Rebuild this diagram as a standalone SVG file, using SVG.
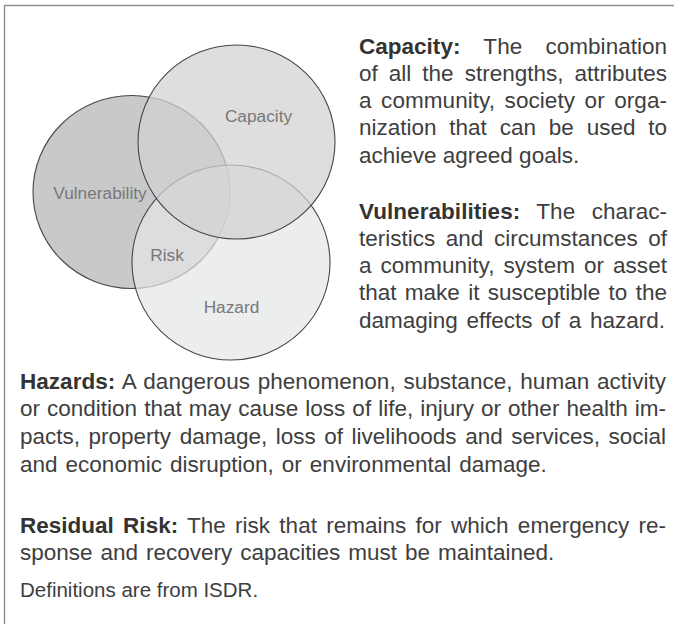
<svg xmlns="http://www.w3.org/2000/svg" width="674" height="624" viewBox="0 0 674 624">
<style>
.frame{fill:none;stroke:#8e8e8e;stroke-width:1.4}
.circ{stroke:#474747;stroke-width:1.1}
.lbl{font-family:"Liberation Sans",Arial,sans-serif;font-size:17.3px;fill:#787878;text-anchor:middle}
.body{font-family:"Liberation Sans",Arial,sans-serif;font-size:22.5px;fill:#3e3e3e}
.b{font-weight:bold;fill:#333333}
.note{font-family:"Liberation Sans",Arial,sans-serif;font-size:20.5px;fill:#3e3e3e}
</style>
<rect width="674" height="624" fill="#ffffff"/>
<path class="frame" d="M4.5,624 V5.5 H674"/>

<g id="vulnerability">
<ellipse class="circ" cx="131.5" cy="192" rx="98.5" ry="96.5" fill="#c8c9ca"/>
<text class="lbl" x="100" y="199">Vulnerability</text>
</g>
<g id="hazard">
<ellipse class="circ" cx="231" cy="262.5" rx="99" ry="97.5" fill="#e4e5e6" fill-opacity="0.71"/>
<text class="lbl" x="231.5" y="313">Hazard</text>
</g>
<g id="capacity">
<ellipse class="circ" cx="236.5" cy="142" rx="98.5" ry="97" fill="#d1d2d3" fill-opacity="0.727"/>
<text class="lbl" x="258.5" y="122">Capacity</text>
</g>
<g id="risk">
<text class="lbl" x="167" y="261">Risk</text>
</g>

<g id="def-capacity" class="body">
<text x="359" y="53.5" word-spacing="17.1" textLength="308"><tspan class="b">Capacity:</tspan> The combination</text>
<text x="359" y="80.8" word-spacing="4.8" textLength="308">of all the strengths, attributes</text>
<text x="359" y="108.1" word-spacing="3.2" textLength="308">a community, society or orga-</text>
<text x="359" y="135.4" word-spacing="6.6" textLength="308">nization that can be used to</text>
<text x="359" y="162.7">achieve agreed goals.</text>
</g>
<g id="def-vulnerabilities" class="body">
<text x="359" y="218.5" word-spacing="10.2" textLength="308"><tspan class="b">Vulnerabilities:</tspan> The charac-</text>
<text x="359" y="245.8" word-spacing="4.3" textLength="308">teristics and circumstances of</text>
<text x="359" y="273.1" word-spacing="2.6" textLength="308">a community, system or asset</text>
<text x="359" y="300.4" word-spacing="2.1" textLength="308">that make it susceptible to the</text>
<text x="359" y="327.7" word-spacing="2.5">damaging effects of a hazard.</text>
</g>
<g id="def-hazards" class="body">
<text x="20" y="388.5" word-spacing="1.4" textLength="646"><tspan class="b">Hazards:</tspan> A dangerous phenomenon, substance, human activity</text>
<text x="20" y="416.2" word-spacing="0.8" textLength="646">or condition that may cause loss of life, injury or other health im-</text>
<text x="20" y="443.9" word-spacing="2.3" textLength="646">pacts, property damage, loss of livelihoods and services, social</text>
<text x="20" y="471.6" word-spacing="1.8">and economic disruption, or environmental damage.</text>
</g>
<g id="def-residual-risk" class="body">
<text x="20" y="532.5" word-spacing="3" textLength="646"><tspan class="b">Residual Risk:</tspan> The risk that remains for which emergency re-</text>
<text x="20" y="560.2" word-spacing="1.7">sponse and recovery capacities must be maintained.</text>
</g>
<g id="source">
<text class="note" x="20" y="596.5">Definitions are from ISDR.</text>
</g>
</svg>
